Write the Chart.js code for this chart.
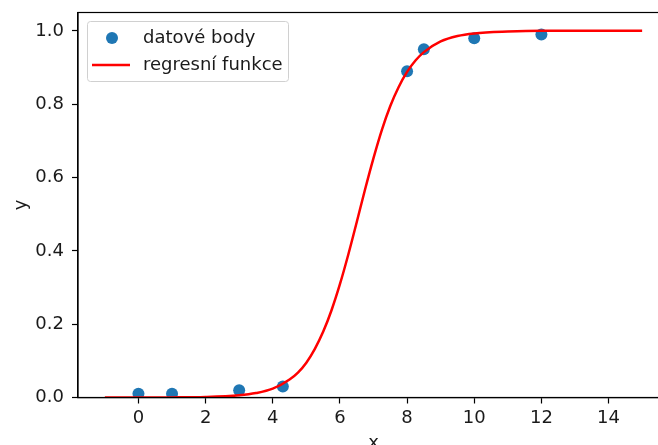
<!DOCTYPE html>
<html>
<head>
<meta charset="utf-8">
<script src="https://cdn.jsdelivr.net/npm/chart.js@4"></script>
<style>
  html, body { margin: 0; padding: 0; background: #fff; overflow: hidden; width: 658px; height: 445px; }
  #wrap { position: absolute; left: 0; top: 0; width: 680px; height: 456px; }
</style>
</head>
<body>
<div id="wrap"><canvas id="c" width="680" height="456"></canvas></div>
<script>
// data points
const dataX = [0, 1, 3, 4.3, 8, 8.5, 10, 12];
const dataY = [0.01, 0.01, 0.02, 0.03, 0.89, 0.95, 0.98, 0.99];
// regression curve samples
const curveX = [-1, 0, 1, 2, 3, 3.5, 4, 4.5, 4.75, 5, 5.25, 5.5, 5.75, 6, 6.25, 6.5, 6.75, 7, 7.25, 7.5, 7.75, 8, 8.25, 8.5, 9, 9.5, 10, 11, 12, 13, 14, 15];
const curveY = [0.0000, 0.0001, 0.0003, 0.0014, 0.006, 0.012, 0.024, 0.049, 0.068, 0.095, 0.132, 0.179, 0.238, 0.309, 0.390, 0.478, 0.568, 0.653, 0.730, 0.795, 0.847, 0.888, 0.919, 0.942, 0.971, 0.986, 0.993, 0.998, 1.0, 1.0, 1.0, 1.0];
// ticks
const xTicks = [0, 2, 4, 6, 8, 10, 12, 14];
const yTicks = [0.0, 0.2, 0.4, 0.6, 0.8, 1.0];
const labels = ['datové body', 'regresní funkce'];

const FONT = 'DejaVu Sans';
const FS = 18;
const TXT = '#1a1a1a';

const framePlugin = {
  id: 'frame',
  afterDraw(chart) {
    const ctx = chart.ctx, a = chart.chartArea;
    ctx.save();
    ctx.strokeStyle = '#000';
    ctx.lineWidth = 1.2;
    ctx.strokeRect(a.left, a.top, a.right - a.left, a.bottom - a.top);
    // legend
    const bx = 87.5, by = 21.5, bw = 201, bh = 60;
    ctx.beginPath();
    if (ctx.roundRect) ctx.roundRect(bx, by, bw, bh, 3); else ctx.rect(bx, by, bw, bh);
    ctx.fillStyle = 'rgba(255,255,255,0.8)';
    ctx.fill();
    ctx.strokeStyle = '#d0d0d0';
    ctx.lineWidth = 1;
    ctx.stroke();
    const ds0 = chart.data.datasets[0], ds1 = chart.data.datasets[1];
    ctx.beginPath();
    ctx.arc(112, 38, 6, 0, Math.PI * 2);
    ctx.fillStyle = ds0.backgroundColor;
    ctx.fill();
    ctx.beginPath();
    ctx.moveTo(92, 65); ctx.lineTo(130, 65);
    ctx.strokeStyle = ds1.borderColor;
    ctx.lineWidth = 2.5;
    ctx.stroke();
    ctx.fillStyle = TXT;
    ctx.font = FS + 'px "' + FONT + '"';
    ctx.textBaseline = 'middle';
    ctx.textAlign = 'left';
    ctx.fillText(ds0.label, 143, 38);
    ctx.fillText(ds1.label, 143, 65);
    ctx.restore();
  }
};

new Chart(document.getElementById('c'), {
  type: 'scatter',
  data: {
    datasets: [
      {
        label: labels[0],
        data: dataX.map((x, i) => ({ x: x, y: dataY[i] })),
        backgroundColor: '#1f77b4',
        borderColor: '#1f77b4',
        pointRadius: 6,
        pointBorderWidth: 0,
        showLine: false,
        order: 2
      },
      {
        label: labels[1],
        type: 'line',
        data: curveX.map((x, i) => ({ x: x, y: curveY[i] })),
        borderColor: '#ff0000',
        backgroundColor: '#ff0000',
        borderWidth: 2.5,
        pointRadius: 0,
        fill: false,
        cubicInterpolationMode: 'monotone',
        order: 1
      }
    ]
  },
  options: {
    responsive: false,
    animation: false,
    devicePixelRatio: 1,
    layout: { padding: { left: 0, top: 12.5, right: 11, bottom: 0 } },
    plugins: { legend: { display: false }, tooltip: { enabled: false } },
    scales: {
      x: {
        type: 'linear',
        min: -1.8, max: 15.8,
        afterBuildTicks(axis) { axis.ticks = xTicks.map(v => ({ value: v })); },
        afterFit(axis) { axis.height = 58.5; axis.paddingLeft = 0; axis.paddingRight = 0; },
        grid: { drawOnChartArea: false, drawTicks: true, tickLength: 6, tickColor: '#000', tickWidth: 1.2 },
        border: { display: true, color: '#000', width: 1.2 },
        ticks: { color: TXT, font: { family: FONT, size: FS }, padding: 4, maxRotation: 0, callback: v => String(v) },
        title: { display: true, text: 'x', color: TXT, font: { family: FONT, size: FS }, padding: { top: 2, bottom: 2 } }
      },
      y: {
        type: 'linear',
        min: 0, max: 1.05,
        afterBuildTicks(axis) { axis.ticks = yTicks.map(v => ({ value: v })); },
        afterFit(axis) { axis.width = 78; axis.paddingTop = 0; axis.paddingBottom = 0; },
        grid: { drawOnChartArea: false, drawTicks: true, tickLength: 6, tickColor: '#000', tickWidth: 1.2 },
        border: { display: true, color: '#000', width: 1.2 },
        ticks: { color: TXT, font: { family: FONT, size: FS }, padding: 8, callback: v => Number(v).toFixed(1) },
        title: { display: true, text: 'y', color: TXT, font: { family: FONT, size: FS }, padding: 10.7 }
      }
    }
  },
  plugins: [framePlugin]
});
</script>
</body>
</html>
